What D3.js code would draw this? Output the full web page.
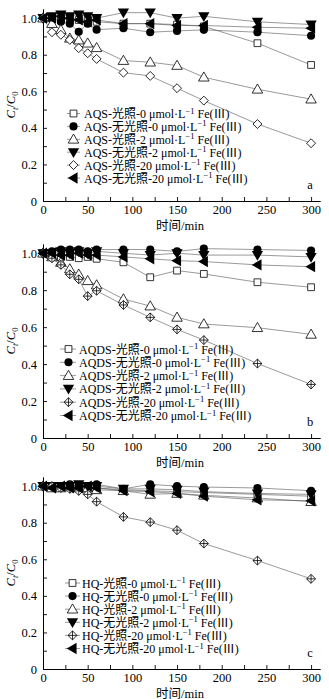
<!DOCTYPE html>
<html>
<head>
<meta charset="utf-8">
<script src="https://cdn.jsdelivr.net/npm/d3@7"></script>
<style>
body { margin: 0; background: #fff; }
svg text { font-family: "Liberation Serif", "Noto Sans CJK SC", serif; fill: #000; }
</style>
</head>
<body>
<svg width="329" height="699"></svg>
<script>
var times = [0, 10, 20, 30, 40, 50, 60, 90, 120, 150, 180, 240, 300];
var compounds = ['AQS', 'AQDS', 'HQ'];
var lightLabels = ['光照', '无光照', '光照', '无光照', '光照', '无光照'];
var feLevels = ['0', '0', '2', '2', '20', '20'];
var panelTags = ['a', 'b', 'c'];
var yTicks = [0, 0.2, 0.4, 0.6, 0.8, 1.0];
var xTicks = [0, 50, 100, 150, 200, 250, 300];

// panel a: AQS
var aqsLight0 = [1, 1.0, 0.99, 1.0, 0.99, 0.99, 0.98, 0.97, 0.97, 0.965, 0.955, 0.863, 0.744];
var aqsDark0 = [1, 1.0, 0.98, 0.97, 0.925, 0.97, 0.937, 0.945, 0.923, 0.93, 0.936, 0.923, 0.904];
var aqsLight2 = [1, 0.97, 0.936, 0.89, 0.88, 0.863, 0.838, 0.768, 0.759, 0.741, 0.677, 0.611, 0.557];
var aqsDark2 = [1, 1.01, 1.02, 1.01, 1.02, 1.01, 1.0, 1.03, 1.03, 1.0, 1.01, 0.98, 0.965];
var aqsLight20 = [1, 0.923, 0.909, 0.881, 0.836, 0.808, 0.777, 0.702, 0.684, 0.617, 0.549, 0.421, 0.316];
var aqsDark20 = [1, 1.0, 1.01, 1.0, 0.99, 0.98, 0.99, 0.97, 0.97, 0.96, 0.96, 0.95, 0.945];

// panel b: AQDS
var aqdsLight0 = [1, 0.99, 0.98, 0.98, 0.973, 0.98, 0.97, 0.951, 0.87, 0.906, 0.888, 0.843, 0.816];
var aqdsDark0 = [1, 1.01, 1.02, 1.02, 1.02, 1.01, 1.02, 1.02, 1.02, 1.01, 1.025, 1.02, 1.015];
var aqdsLight2 = [1, 0.98, 0.95, 0.915, 0.886, 0.851, 0.828, 0.752, 0.714, 0.653, 0.617, 0.597, 0.561];
var aqdsDark2 = [1, 1.0, 1.01, 1.0, 1.01, 1.0, 1.01, 1.0, 0.99, 1.0, 0.99, 0.99, 0.98];
var aqdsLight20 = [1, 0.973, 0.937, 0.886, 0.859, 0.768, 0.797, 0.72, 0.653, 0.588, 0.53, 0.403, 0.29];
var aqdsDark20 = [1, 1.0, 0.99, 0.99, 1.0, 0.99, 0.99, 0.98, 0.97, 0.96, 0.955, 0.937, 0.927];

// panel c: HQ
var hqLight0 = [1, 1.0, 0.99, 1.0, 1.0, 0.99, 0.99, 0.98, 0.975, 0.97, 0.965, 0.955, 0.945];
var hqDark0 = [1, 1.0, 1.0, 1.01, 1.0, 1.0, 1.01, 0.985, 1.01, 1.0, 0.995, 0.99, 0.975];
var hqLight2 = [1, 0.99, 0.99, 1.0, 0.99, 0.99, 0.98, 0.975, 0.955, 0.96, 0.95, 0.935, 0.915];
var hqDark2 = [1, 1.0, 1.0, 1.0, 1.01, 1.0, 1.0, 0.985, 0.985, 0.98, 0.97, 0.96, 0.955];
var hqLight20 = [1, 1.0, 0.99, 0.985, 0.974, 0.955, 0.915, 0.832, 0.803, 0.759, 0.686, 0.593, 0.493];
var hqDark20 = [1, 0.99, 1.0, 0.99, 0.99, 1.0, 0.99, 0.975, 0.97, 0.96, 0.945, 0.925, 0.92];

var panelSeries = [
	[aqsLight0, aqsDark0, aqsLight2, aqsDark2, aqsLight20, aqsDark20],
	[aqdsLight0, aqdsDark0, aqdsLight2, aqdsDark2, aqdsLight20, aqdsDark20],
	[hqLight0, hqDark0, hqLight2, hqDark2, hqLight20, hqDark20]
];

var svg = d3.select('svg');
var x0 = 43, x1 = 320;

var panels = [
	{ top: 9, bottom: 201, legX: 73.5, legLine: [67, 80], legText: 84, legY: 113.5, legDy: 12.9, cross: false },
	{ top: 244, bottom: 438, legX: 68.5, legLine: [60, 76], legText: 79, legY: 349, legDy: 13.3, cross: true },
	{ top: 477, bottom: 669, legX: 72.5, legLine: [65, 80], legText: 82, legY: 583, legDy: 13.1, cross: true }
];

var x = d3.scaleLinear().domain([0, 310]).range([x0, x1]);

function marker(sel, k, cross) {
	var sym = d3.symbol();
	if (k === 0) {
		sel.append('path').attr('d', sym.type(d3.symbolSquare).size(46)())
			.attr('fill', '#fff').attr('stroke', '#000').attr('stroke-width', 0.8);
	} else if (k === 1) {
		sel.append('path').attr('d', sym.type(d3.symbolCircle).size(52)())
			.attr('fill', '#000');
	} else if (k === 2) {
		sel.append('path').attr('d', sym.type(d3.symbolTriangle).size(48)())
			.attr('transform', 'translate(0,0.8)')
			.attr('fill', '#fff').attr('stroke', '#000').attr('stroke-width', 0.8);
	} else if (k === 3) {
		sel.append('path').attr('d', sym.type(d3.symbolTriangle).size(55)())
			.attr('transform', 'translate(0,-0.8) rotate(180)')
			.attr('fill', '#000');
	} else if (k === 4) {
		sel.append('path').attr('d', sym.type(d3.symbolSquare).size(40)())
			.attr('transform', 'rotate(45)')
			.attr('fill', '#fff').attr('stroke', '#000').attr('stroke-width', 0.8);
		if (cross) {
			sel.append('path').attr('d', 'M-4.4,0H4.4M0,-4.4V4.4')
				.attr('stroke', '#000').attr('stroke-width', 0.8);
		}
	} else {
		sel.append('path').attr('d', sym.type(d3.symbolTriangle).size(55)())
			.attr('transform', 'translate(0.8,0) rotate(-90)')
			.attr('fill', '#000');
	}
}

panels.forEach(function (p, pi) {
	var y = d3.scaleLinear().domain([0, 1.05]).range([p.bottom, p.top]);
	var g = svg.append('g');

	// axes
	var xAxis = d3.axisBottom(x).tickValues(xTicks).tickSizeInner(-4).tickSizeOuter(0).tickPadding(4);
	var xMinor = d3.axisBottom(x).tickValues([25, 75, 125, 175, 225, 275]).tickSizeInner(-4).tickSizeOuter(0).tickFormat('');
	var yAxis = d3.axisLeft(y).tickValues(yTicks).tickSizeInner(-4).tickSizeOuter(0).tickPadding(6)
		.tickFormat(function (d) { return d === 0 ? '0' : d3.format('.1f')(d); });
	var yMinor = d3.axisLeft(y).tickValues([0.1, 0.3, 0.5, 0.7, 0.9]).tickSizeInner(-4).tickSizeOuter(0).tickFormat('');

	[xAxis, xMinor].forEach(function (ax) {
		g.append('g').attr('transform', 'translate(0,' + p.bottom + ')').call(ax)
			.call(function (s) {
				s.selectAll('text').attr('font-size', 12.5).style('font-family', '"Liberation Serif", serif');
				s.selectAll('line,path').attr('stroke', '#000').attr('stroke-width', 0.9);
			});
	});
	[yAxis, yMinor].forEach(function (ax) {
		g.append('g').attr('transform', 'translate(' + x0 + ',0)').call(ax)
			.call(function (s) {
				s.selectAll('text').attr('font-size', 12.5).style('font-family', '"Liberation Serif", serif');
				s.selectAll('line,path').attr('stroke', '#000').attr('stroke-width', 0.9);
			});
	});

	// axis titles
	var yl = g.append('text')
		.attr('transform', 'translate(15,' + ((p.top + p.bottom) / 2) + ') rotate(-90)')
		.attr('text-anchor', 'middle').attr('font-size', 12.5);
	yl.append('tspan').attr('font-style', 'italic').text('C');
	yl.append('tspan').attr('font-style', 'italic').attr('font-size', 8.5).attr('dy', 3).text('t');
	yl.append('tspan').attr('dy', -3).text('/');
	yl.append('tspan').attr('font-style', 'italic').text('C');
	yl.append('tspan').attr('font-size', 8.5).attr('dy', 3).text('0');

	g.append('text').attr('x', 180).attr('y', p.bottom + 29).attr('text-anchor', 'middle')
		.attr('font-size', 12.5).text('时间/min');

	g.append('text').attr('x', 310).attr('y', p.bottom - 12).attr('text-anchor', 'middle')
		.attr('font-size', 12.5).text(panelTags[pi]);

	// series lines
	var line = d3.line().x(function (d, i) { return x(times[i]); }).y(function (d) { return y(d); });
	var series = panelSeries[pi];
	series.forEach(function (vals) {
		g.append('path').datum(vals).attr('d', line)
			.attr('fill', 'none').attr('stroke', '#555').attr('stroke-width', 0.6);
	});
	series.forEach(function (vals, k) {
		g.append('g').selectAll('g').data(vals).join('g')
			.attr('transform', function (d, i) { return 'translate(' + x(times[i]) + ',' + y(d) + ')'; })
			.each(function () { marker(d3.select(this), k, p.cross); });
	});

	// legend
	lightLabels.forEach(function (lab, k) {
		var ly = p.legY + k * p.legDy;
		g.append('line').attr('x1', p.legLine[0]).attr('x2', p.legLine[1]).attr('y1', ly).attr('y2', ly)
			.attr('stroke', '#555').attr('stroke-width', 0.6);
		var m = g.append('g').attr('transform', 'translate(' + p.legX + ',' + ly + ')');
		marker(m, k, p.cross);
		var t = g.append('text').attr('x', p.legText).attr('y', ly + 4.5).attr('font-size', 12);
		t.append('tspan').text(compounds[pi] + '-' + lab + '-' + feLevels[k] + ' μmol·L');
		t.append('tspan').attr('font-size', 8.5).attr('dy', -4.5).text('−1');
		t.append('tspan').attr('dy', 4.5).text(' Fe(Ⅲ)');
	});
});
</script>
</body>
</html>
